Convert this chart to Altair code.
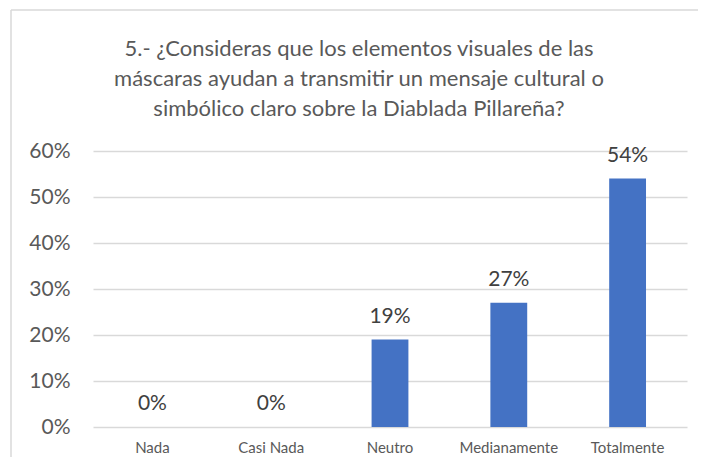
import altair as alt
import pandas as pd

categories = ["Nada", "Casi Nada", "Neutro", "Medianamente", "Totalmente"]
values = [0.0, 0.0, 0.19, 0.27, 0.54]
y_ticks = [0, 0.1, 0.2, 0.3, 0.4, 0.5, 0.6]
title_lines = [
    "5.- ¿Consideras que los elementos visuales de las",
    "máscaras ayudan a transmitir un mensaje cultural o",
    "simbólico claro sobre la Diablada Pillareña?",
]

df = pd.DataFrame({"cat": categories, "val": values})
FONT = "Lato"

x_enc = alt.X(
    "cat:N",
    sort=categories,
    scale=alt.Scale(paddingInner=0.69, paddingOuter=0.345),
    axis=alt.Axis(
        title=None, labelAngle=0, labelFontSize=15, labelColor="#595959",
        labelFont=FONT, labelPadding=13, domain=False, ticks=False,
    ),
)
y_enc = alt.Y(
    "val:Q",
    scale=alt.Scale(domain=[0, 0.6], nice=False),
    axis=alt.Axis(
        title=None, values=y_ticks, format=".0%", labelFontSize=21,
        labelColor="#595959", labelFont=FONT, labelPadding=23,
        domain=False, ticks=False, grid=True, gridColor="#d9d9d9", gridWidth=1.3,
    ),
)

bars = alt.Chart(df).mark_bar(color="#4472C4").encode(x=x_enc, y=y_enc)
labels = alt.Chart(df).mark_text(
    fontSize=21, color="#404040", font=FONT, baseline="alphabetic", dy=-17
).encode(x=alt.X("cat:N", sort=categories), y="val:Q", text=alt.Text("val:Q", format=".0%"))

one = pd.DataFrame({"t": ["\n".join(title_lines)]})
border_top = alt.Chart(one).mark_rule(color="#d9d9d9", strokeWidth=1.5).encode(
    x=alt.value(-82), x2=alt.value(620), y=alt.value(-141)
)
border_left = alt.Chart(one).mark_rule(color="#d9d9d9", strokeWidth=1.5).encode(
    x=alt.value(-82), y=alt.value(-141), y2=alt.value(330)
)
title = alt.Chart(one).mark_text(
    fontSize=22, font=FONT, color="#595959", lineBreak="\n", lineHeight=30,
    baseline="alphabetic", align="center",
).encode(x=alt.value(266), y=alt.value(-95), text="t:N")

chart = alt.layer(border_top, border_left, title, bars, labels).properties(
    width=594,
    height=276,
    padding={"left": 85, "top": 143, "right": 11, "bottom": 30},
    autosize=alt.AutoSizeParams(type="none"),
).configure_view(stroke=None)

chart.save("out.html", embed_options={"renderer": "svg", "actions": False})
